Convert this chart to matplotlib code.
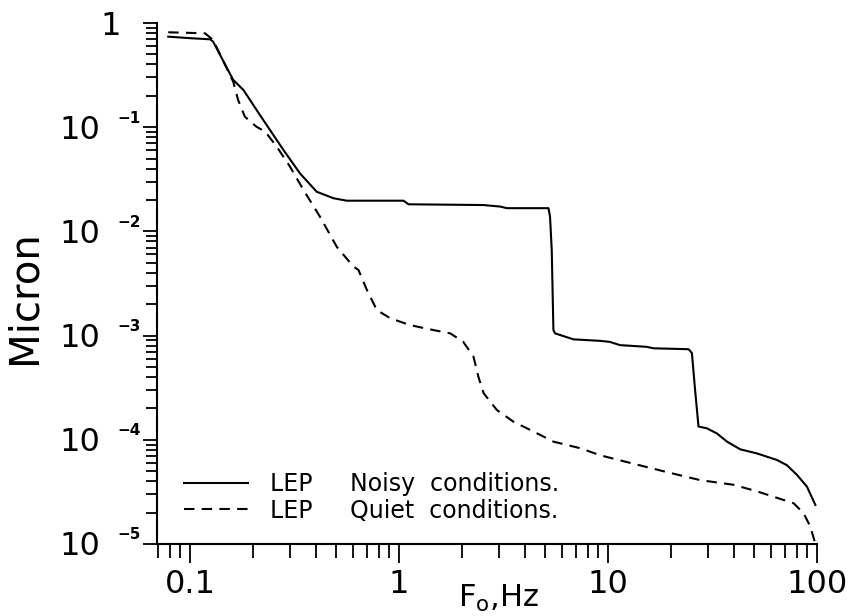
import matplotlib
matplotlib.use("Agg")
import matplotlib.pyplot as plt
import matplotlib.transforms as mtransforms
from matplotlib.ticker import LogLocator, NullFormatter, FixedLocator

# ---- data ----
noisy_f = [0.0787, 0.102, 0.125, 0.129, 0.161, 0.18, 0.216, 0.28, 0.336, 0.404,
           0.486, 0.562, 1.05, 1.11, 2.53, 3.05, 3.28, 5.19, 5.28, 5.38, 5.48,
           5.58, 6.84, 9.18, 10.2, 11.4, 15.3, 16.5, 24.3, 25.2, 26.1, 27.1,
           29.7, 33.2, 37.1, 42.9, 51.6, 64.3, 71.8, 80.2, 89.5, 98.2]
noisy_a = [0.739, 0.713, 0.697, 0.662, 0.284, 0.228, 0.131, 0.0604, 0.036, 0.024,
           0.0208, 0.0197, 0.0197, 0.0182, 0.0179, 0.0173, 0.0167, 0.0167, 0.0138,
           6.6e-3, 1.13e-3, 1.05e-3, 9.2e-4, 8.9e-4, 8.7e-4, 8.1e-4, 7.8e-4,
           7.55e-4, 7.4e-4, 6.8e-4, 3.0e-4, 1.34e-4, 1.29e-4, 1.15e-4, 9.6e-5,
           8.1e-5, 7.4e-5, 6.4e-5, 5.7e-5, 4.6e-5, 3.55e-5, 2.37e-5]

quiet_f = [0.0787, 0.118, 0.129, 0.161, 0.170, 0.183, 0.208, 0.229, 0.26, 0.301,
           0.349, 0.419, 0.504, 0.605, 0.64, 0.702, 0.783, 0.906, 1.13, 1.46,
           1.76, 2.03, 2.27, 2.40, 2.54, 2.94, 3.53, 4.40, 5.48, 7.36, 9.18,
           13.2, 19.1, 27.6, 39.9, 51.6, 62.0, 77.3, 86.3, 92.9, 98.2]
quiet_a = [0.814, 0.796, 0.687, 0.273, 0.182, 0.126, 0.101, 0.0906, 0.065, 0.0418,
           0.025, 0.0138, 7.1e-3, 4.6e-3, 4.26e-3, 2.74e-3, 1.76e-3, 1.47e-3,
           1.26e-3, 1.13e-3, 1.05e-3, 8.7e-4, 6.3e-4, 4.0e-4, 2.8e-4, 1.93e-4,
           1.49e-4, 1.20e-4, 9.6e-5, 8.3e-5, 7.1e-5, 5.9e-5, 4.9e-5, 4.1e-5,
           3.7e-5, 3.2e-5, 2.84e-5, 2.46e-5, 1.97e-5, 1.47e-5, 1.0e-5]

series_labels = ["LEP     Noisy  conditions.", "LEP     Quiet  conditions."]

xtick_vals = [0.1, 1, 10, 100]
xtick_labels = ["0.1", "1", "10", "100"]
ytick_vals = [1, 1e-1, 1e-2, 1e-3, 1e-4, 1e-5]
ytick_base = ["1", "10", "10", "10", "10", "10"]
ytick_exp = ["", "\u22121", "\u22122", "\u22123", "\u22124", "\u22125"]

# ---- figure ----
fig = plt.figure(figsize=(8.54, 6.16), dpi=100)
ax = fig.add_axes([0.1838, 0.1169, 0.7729, 0.8458])
ax.set_xscale("log")
ax.set_yscale("log")

ax.plot(noisy_f, noisy_a, color="black", lw=1.5, ls="-", label=series_labels[0])
ax.plot(quiet_f, quiet_a, color="black", lw=1.5, ls=(0, (5, 3.5)), label=series_labels[1])

ax.set_xlim(0.0695, 100)
ax.set_ylim(1e-5, 1)

for s in ["top", "right"]:
    ax.spines[s].set_visible(False)
for s in ["left", "bottom"]:
    ax.spines[s].set_linewidth(1.5)

ax.xaxis.set_major_locator(FixedLocator(xtick_vals))
ax.set_xticklabels(xtick_labels)
ax.xaxis.set_minor_locator(LogLocator(base=10, subs=range(2, 10), numticks=20))
ax.xaxis.set_minor_formatter(NullFormatter())
ax.yaxis.set_major_locator(FixedLocator(ytick_vals))
ax.yaxis.set_major_formatter(NullFormatter())
ax.yaxis.set_minor_locator(LogLocator(base=10, subs=range(2, 10), numticks=20))
ax.yaxis.set_minor_formatter(NullFormatter())

ax.tick_params(axis="x", which="major", direction="out", length=14, width=1.3,
               labelsize=23, pad=4)
ax.tick_params(axis="x", which="minor", direction="out", length=10, width=1.3)
ax.tick_params(axis="y", which="major", direction="out", length=10, width=1.3)
ax.tick_params(axis="y", which="minor", direction="out", length=8, width=1.3)

# y tick labels "10  ^-n"
ytrans = ax.get_yaxis_transform()
for v, b, e in zip(ytick_vals, ytick_base, ytick_exp):
    if e:
        tb = ytrans + mtransforms.ScaledTranslation(-0.57, -0.03, fig.dpi_scale_trans)
        ax.text(0, v, b, transform=tb, ha="right", va="center", fontsize=23)
        te = ytrans + mtransforms.ScaledTranslation(-0.40, 0.09, fig.dpi_scale_trans)
        ax.text(0, v, e, transform=te, ha="left", va="center", fontsize=11,
                fontweight="bold")
    else:
        tb = ytrans + mtransforms.ScaledTranslation(-0.36, -0.035, fig.dpi_scale_trans)
        ax.text(0, v, b, transform=tb, ha="right", va="center", fontsize=23)

fig.text(25 / 854, 1 - 297 / 616, "Micron", rotation=90, ha="center", va="center",
         fontsize=29)
fig.text(499 / 854, 1 - 598 / 616, r"F$_\mathregular{o}$,Hz", ha="center",
         va="center", fontsize=22)

leg = ax.legend(loc="lower left", bbox_to_anchor=(0.041, 0.041), frameon=False,
                fontsize=17, handlelength=2.7, handletextpad=0.95,
                labelspacing=0.1, borderpad=0, borderaxespad=0)

fig.savefig("out.png", dpi=100)
